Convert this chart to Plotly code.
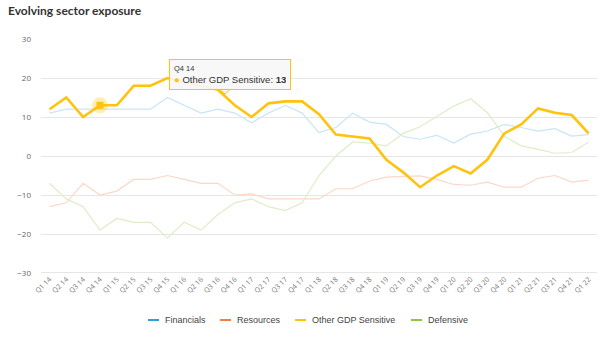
import plotly.graph_objects as go

categories = ["Q1 14","Q2 14","Q3 14","Q4 14","Q1 15","Q2 15","Q3 15","Q4 15",
              "Q1 16","Q2 16","Q3 16","Q4 16","Q1 17","Q2 17","Q3 17","Q4 17",
              "Q1 18","Q2 18","Q3 18","Q4 18","Q1 19","Q2 19","Q3 19","Q4 19",
              "Q1 20","Q2 20","Q3 20","Q4 20","Q1 21","Q2 21","Q3 21","Q4 21","Q1 22"]

financials = [11,12,12,12,12,12,12,15,13,11,12,11,8.5,11,13,11,6,7.3,11,8.7,8.1,5,4.3,5.3,
              3.3,5.6,6.4,8.1,7.3,6.4,7,5.1,5.5]
resources = [-13,-12,-7,-10,-9,-6,-6,-5,-6,-7,-7,-10,-9.7,-11,-11,-11,-11,-8.4,-8.4,-6.4,
             -5.4,-5.2,-5.1,-6,-7.3,-7.5,-6.7,-8,-8,-5.7,-5,-6.7,-6.2]
other_gdp = [12,15,10,13,13,18,18,20,19,18,17,13,10,13.5,14,14,10.7,5.5,5,4.5,-1,-4.2,-8,-5,
             -2.6,-4.5,-0.9,5.8,8.1,12.2,11.1,10.5,5.8]
defensive = [-7,-11,-13,-19,-16,-17,-17,-21,-17,-19,-15,-12,-11,-13,-14,-12,-5,0,3.6,3.3,
             2.6,5.8,7.5,10.1,12.8,14.7,11.1,5.1,2.6,1.7,0.7,0.9,3.6]

series_names = ["Financials", "Resources", "Other GDP Sensitive", "Defensive"]
full_colors = ["#2ca1db", "#f47c4c", "#ffc20e", "#8dc63f"]
faded_colors = ["#c9e5f5", "#fcd7c8", "#ffc20e", "#ddeec6"]
hover_idx = 3  # Q4 14

# layout geometry (pixels)
W, H = 600, 340
ML, MR, MT, MB = 41, 3, 39, 67
PW, PH = W - ML - MR, H - MT - MB

def px(xp):
    return (xp - ML) / PW

def py(yp):
    return (H - MB - yp) / PH

fig = go.Figure()

all_series = [financials, resources, other_gdp, defensive]
for i in [0, 1, 3, 2]:
    fig.add_trace(go.Scatter(
        x=categories, y=all_series[i], mode="lines",
        line=dict(color=faded_colors[i], width=2.6 if i == 2 else 1.2),
        showlegend=False, hoverinfo="skip"))

# hovered point halo + marker
fig.add_trace(go.Scatter(
    x=[categories[hover_idx]], y=[other_gdp[hover_idx]], mode="markers",
    marker=dict(symbol="circle", size=16, color="rgba(255,194,14,0.3)"),
    showlegend=False, hoverinfo="skip"))
fig.add_trace(go.Scatter(
    x=[categories[hover_idx]], y=[other_gdp[hover_idx]], mode="markers",
    marker=dict(symbol="square", size=7, color="#ffc20e"),
    showlegend=False, hoverinfo="skip"))

# tooltip callout pointer
fig.add_shape(type="path", xref="paper", yref="paper",
              path=(f"M {px(219)} {py(88.5)} L {px(225)} {py(94)} L {px(231)} {py(88.5)} Z"),
              fillcolor="rgba(247,247,247,0.9)", line=dict(color="#ffc20e", width=1))

# tooltip
fig.add_annotation(
    xref="paper", yref="paper", x=px(169), y=py(59), xanchor="left", yanchor="top",
    text=("<span style='font-size:7.5px'>" + categories[hover_idx] + "</span><br>"
          "<span style='color:#ffc20e'>●</span> " + series_names[2] + ": <b>"
          + f"{other_gdp[hover_idx]:g}" + "</b>"),
    showarrow=False, align="left", width=112,
    font=dict(family="Arial, Liberation Sans", size=9.5, color="#333333"),
    bgcolor="rgba(247,247,247,0.92)", bordercolor="#ffc20e", borderwidth=1, borderpad=4,
)

# custom legend (short line symbols)
legend_line_x = [148, 220, 295, 411]
legend_y = 320
for name, col, lx in zip(series_names, full_colors, legend_line_x):
    fig.add_shape(type="line", xref="paper", yref="paper",
                  x0=px(lx), x1=px(lx + 11), y0=py(legend_y), y1=py(legend_y),
                  line=dict(color=col, width=2))
    fig.add_annotation(xref="paper", yref="paper", x=px(lx + 15), y=py(legend_y),
                       xanchor="left", yanchor="middle", showarrow=False, text=name,
                       font=dict(family="Arial, Liberation Sans", size=9, color="#444444"))

fig.update_layout(
    width=W, height=H,
    margin=dict(l=ML, r=MR, t=MT, b=MB),
    paper_bgcolor="white", plot_bgcolor="white",
    title=dict(text="<b>Evolving sector exposure</b>", x=8 / W, xanchor="left",
               y=1 - 7 / H, yanchor="top",
               font=dict(family="Lato, sans-serif", size=12, color="#333333")),
    xaxis=dict(type="category", range=[-0.5, len(categories) - 0.5], tickangle=-45,
               showgrid=False, ticks="", automargin=False,
               tickfont=dict(family="Open Sans, Arial", size=7, color="#777777"),
               showline=False, zeroline=False, fixedrange=True),
    yaxis=dict(range=[-30, 30], dtick=10, showgrid=True, gridcolor="#e6e6e6",
               gridwidth=1, zeroline=False, ticks="", automargin=False,
               ticklabelstandoff=9,
               tickfont=dict(family="Open Sans, Arial", size=8, color="#666666"),
               fixedrange=True),
    showlegend=False,
    hovermode=False,
)
fig.add_hline(y=-30, line=dict(color="#cccccc", width=1))

fig.write_html("out.html")
